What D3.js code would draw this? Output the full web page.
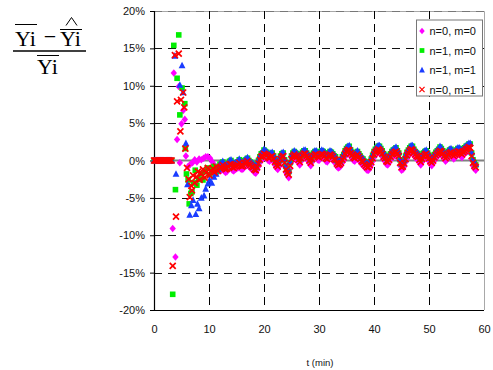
<!DOCTYPE html>
<html>
<head>
<meta charset="utf-8">
<script src="https://cdn.jsdelivr.net/npm/d3@7"></script>
<style>
  body { margin: 0; background: #fff; }
  svg { display: block; }
</style>
</head>
<body>
<svg id="chart" width="493" height="370"></svg>
<script>
// ---- data -------------------------------------------------------------
const xTicks = [0, 10, 20, 30, 40, 50, 60];
const yTicks = [-20, -15, -10, -5, 0, 5, 10, 15, 20];
const seriesNames = ["n=0, m=0", "n=1, m=0", "n=1, m=1", "n=0, m=1"];

// start-up period: all models give zero deviation
const zeroTimes = [0, 0.2, 0.4, 0.6, 0.8, 1.0, 1.2, 1.4, 1.6, 1.8, 2.0, 2.2, 2.4, 2.6, 2.8, 3.0, 3.2];

// transient period, [t (min), deviation %]
const earlyN0M0 = [[3.4,-9.1],[3.6,11.7],[3.9,-12.9],[4.2,2.8],[4.5,9.9],[4.7,-0.3],[5.0,4.9],[5.3,6.7],[5.6,5.5],[5.8,0.6],
  [6.2,-0.8],[6.6,-0.5],[7.0,-0.3],[7.4,0.1],[7.8,-0.2],[8.2,0.2],[8.6,0.1],[9.0,0.3],[9.4,0.5],[9.8,0.5],[10.2,0.3],[10.6,-0.2],[11.0,-0.6],[11.5,-1.0]];
const earlyN1M0 = [[3.4,-17.9],[3.6,15.4],[3.9,-3.9],[4.2,11.0],[4.5,16.8],[4.7,6.1],[5.1,9.7],[5.6,7.6],[5.7,1.6],[5.9,-1.8],
  [6.2,-2.6],[6.4,-5.8],[6.7,-4.4],[6.9,-4.2],[7.2,-3.0],[7.5,-1.3],[7.8,-3.3],[8.1,-2.5],[8.5,-1.8],[8.9,-2.6],[9.3,-1.5],[9.7,-1.0],[10.1,-1.9],[10.5,-1.2],[10.9,-0.8],[11.3,-1.5],[11.7,-1.1]];
const earlyN1M1 = [[3.8,14.0],[4.0,-1.8],[4.7,10.1],[5.1,12.7],[5.3,9.1],[5.8,2.3],[6.1,-3.2],[6.5,-7.3],[6.8,-6.0],[7.1,-5.3],
  [7.6,-7.2],[7.9,-5.8],[8.2,-6.4],[8.6,-5.0],[9.1,-4.7],[9.4,-3.8],[9.8,-3.1],[10.1,-2.6],[10.5,-3.0],[10.9,-2.2],[11.3,-1.8],[11.7,-1.2]];
const earlyN0M1 = [[3.4,-14.1],[3.8,14.1],[4.0,-7.5],[4.2,7.9],[4.5,14.3],[4.8,3.9],[4.9,8.1],[5.3,9.1],[5.5,7.1],[5.7,1.6],
  [6.0,-1.0],[6.3,-2.5],[6.5,-4.9],[6.8,-3.4],[6.9,-4.0],[7.1,-2.0],[7.4,-3.0],[7.7,-2.2],[8.0,-1.5],[8.3,-2.6],[8.6,-1.8],[8.9,-1.2],
  [9.2,-2.3],[9.5,-1.6],[9.8,-1.0],[10.1,-2.0],[10.4,-1.4],[10.7,-1.1],[11.0,-1.6],[11.3,-0.8],[11.6,-1.4]];

// steady operation, samples on the half minute ...
const lateTimes = [12,12.5,13,13.5,14,14.5,15,15.5,16,16.5,17,17.5,18,18.5,19,19.5,20,20.5,21,21.5,
  22,22.5,23,23.5,24,24.5,25,25.5,26,26.5,27,27.5,28,28.5,29,29.5,30,30.5,31,31.5,
  32,32.5,33,33.5,34,34.5,35,35.5,36,36.5,37,37.5,38,38.5,39,39.5,40,40.5,41,41.5,
  42,42.5,43,43.5,44,44.5,45,45.5,46,46.5,47,47.5,48,48.5,49,49.5,50,50.5,51,51.5,
  52,52.5,53,53.5,54,54.5,55,55.5,56,56.5,57,57.5,58,58.5];
const lateN0M0 = [-1.4,-1.0,-1.6,-1.2,-0.9,-1.4,-1.1,-0.7,-1.2,-0.8,
  -0.5,-1.0,-1.3,-1.7,-0.8,0.1,0.5,0.3,-0.1,0.2,
  -0.6,-1.2,-0.2,0.2,-1.6,-2.3,-0.2,0.4,0.1,-0.6,
  0.3,0.5,0.0,-0.7,0.2,0.4,0.0,0.5,0.2,-0.2,
  0.4,0.1,-0.3,-1.0,-0.7,0.0,0.8,1.0,0.3,-0.1,
  0.4,-0.2,-0.6,-1.1,-1.3,-0.6,0.4,0.9,1.0,0.5,
  -0.1,-0.6,0.1,0.5,0.8,0.2,-1.3,-0.8,0.3,0.9,
  1.0,0.4,0.1,-0.6,0.2,0.5,-0.1,-0.7,0.0,0.5,
  0.9,0.5,-0.1,0.4,0.7,0.2,0.6,0.8,0.4,0.9,
  1.2,1.3,-0.7,-1.3];
const lateN1M0 = [-0.5,-0.2,-0.7,-0.4,0.0,-0.5,-0.3,0.1,-0.4,0.0,
  0.3,-0.2,-0.5,-0.9,0.0,0.9,1.4,1.1,0.7,1.0,
  0.2,-0.4,0.6,1.0,-0.8,-1.5,0.6,1.2,0.9,0.2,
  1.1,1.3,0.8,0.1,1.0,1.2,0.8,1.3,1.0,0.6,
  1.2,0.9,0.5,-0.2,0.1,0.8,1.6,1.9,1.1,0.7,
  1.2,0.6,0.2,-0.3,-0.5,0.2,1.2,1.7,1.9,1.3,
  0.7,0.2,0.9,1.4,1.7,1.0,-0.5,0.0,1.1,1.7,
  1.9,1.2,0.9,0.2,1.0,1.3,0.7,0.1,0.8,1.3,
  1.8,1.3,0.7,1.2,1.5,1.0,1.4,1.6,1.2,1.7,
  2.0,2.2,0.1,-0.6];
const lateN1M1 = [-0.4,-0.1,-0.6,-0.3,0.1,-0.4,-0.2,0.2,-0.3,0.1,
  0.4,-0.1,-0.4,-0.8,0.1,1.0,1.5,1.2,0.8,1.1,
  0.3,-0.3,0.7,1.1,-0.7,-1.4,0.7,1.3,1.0,0.3,
  1.2,1.4,0.9,0.2,1.1,1.3,0.9,1.4,1.1,0.7,
  1.3,1.0,0.6,-0.1,0.2,0.9,1.7,2.0,1.2,0.8,
  1.3,0.7,0.3,-0.2,-0.4,0.3,1.3,1.8,2.0,1.4,
  0.8,0.3,1.0,1.5,1.8,1.1,-0.4,0.1,1.2,1.8,
  2.0,1.3,1.0,0.3,1.1,1.4,0.8,0.2,0.9,1.4,
  1.9,1.4,0.8,1.3,1.6,1.1,1.5,1.7,1.3,1.8,
  2.1,2.3,0.2,-0.5];
const lateN0M1 = [-1.0,-0.6,-1.2,-0.8,-0.5,-1.0,-0.7,-0.3,-0.8,-0.4,
  -0.1,-0.6,-0.9,-1.3,-0.4,0.5,0.9,0.7,0.3,0.6,
  -0.2,-0.8,0.2,0.6,-1.2,-1.9,0.2,0.8,0.5,-0.2,
  0.7,0.9,0.4,-0.3,0.6,0.8,0.4,0.9,0.6,0.2,
  0.8,0.5,0.1,-0.6,-0.3,0.4,1.2,1.4,0.7,0.3,
  0.8,0.2,-0.2,-0.7,-0.9,-0.2,0.8,1.3,1.4,0.9,
  0.3,-0.2,0.5,0.9,1.2,0.6,-0.9,-0.4,0.7,1.3,
  1.4,0.8,0.5,-0.2,0.6,0.9,0.3,-0.3,0.4,0.9,
  1.3,0.9,0.3,0.8,1.1,0.6,1.0,1.2,0.8,1.3,
  1.6,1.7,-0.3,-0.9];

// ... and the quarter-minute samples in between
const midTimes = [12.25,12.75,13.25,13.75,14.25,14.75,15.25,15.75,16.25,16.75,
  17.25,17.75,18.25,18.75,19.25,19.75,20.25,20.75,21.25,21.75,
  22.25,22.75,23.25,23.75,24.25,24.75,25.25,25.75,26.25,26.75,
  27.25,27.75,28.25,28.75,29.25,29.75,30.25,30.75,31.25,31.75,
  32.25,32.75,33.25,33.75,34.25,34.75,35.25,35.75,36.25,36.75,
  37.25,37.75,38.25,38.75,39.25,39.75,40.25,40.75,41.25,41.75,
  42.25,42.75,43.25,43.75,44.25,44.75,45.25,45.75,46.25,46.75,
  47.25,47.75,48.25,48.75,49.25,49.75,50.25,50.75,51.25,51.75,
  52.25,52.75,53.25,53.75,54.25,54.75,55.25,55.75,56.25,56.75,
  57.25,57.75,58.25];
const midN0M0 = [-1.3,-1.4,-1.5,-0.9,-1.3,-1.2,-1.0,-1.1,-1.1,-0.7,
  -0.8,-1.2,-1.6,-1.3,-0.3,0.2,0.4,0.0,0.1,-0.2,
  -1.0,-0.8,0.1,-0.7,-2.0,-1.1,0.2,0.2,-0.3,-0.1,
  0.5,0.2,-0.4,-0.2,0.4,0.1,0.3,0.4,-0.1,0.2,
  0.3,-0.2,-0.8,-0.9,-0.3,0.5,1.0,0.6,0.0,0.2,
  0.1,-0.5,-0.9,-1.3,-1.0,-0.1,0.7,1.1,0.8,0.1,
  -0.5,-0.3,0.4,0.7,0.5,-0.7,-1.2,-0.2,0.6,1.1,
  0.7,0.2,-0.3,-0.2,0.4,0.2,-0.5,-0.4,0.3,0.7,
  0.8,0.2,0.1,0.6,0.4,0.4,0.8,0.6,0.7,1.1,
  1.4,0.2,-1.1];
const midN1M0 = [-0.5,-0.6,-0.7,-0.1,-0.5,-0.4,-0.2,-0.3,-0.3,0.1,
  0.0,-0.4,-0.8,-0.5,0.5,1.0,1.2,0.8,0.9,0.6,
  -0.2,0.0,0.9,0.1,-1.2,-0.3,1.0,1.0,0.5,0.7,
  1.3,1.0,0.4,0.6,1.2,0.9,1.1,1.2,0.7,1.0,
  1.1,0.6,0.0,-0.1,0.5,1.3,1.8,1.4,0.8,1.0,
  0.9,0.3,-0.1,-0.5,-0.2,0.7,1.5,1.9,1.6,0.9,
  0.3,0.5,1.2,1.5,1.3,0.1,-0.4,0.6,1.4,1.9,
  1.5,1.0,0.5,0.6,1.2,1.0,0.3,0.4,1.1,1.5,
  1.6,1.0,0.9,1.4,1.2,1.2,1.6,1.4,1.5,1.9,
  2.2,1.0,-0.3];
const midN1M1 = [-0.4,-0.5,-0.6,0.0,-0.4,-0.3,-0.1,-0.2,-0.2,0.2,
  0.1,-0.3,-0.7,-0.4,0.6,1.1,1.3,0.9,1.0,0.7,
  -0.1,0.1,1.0,0.2,-1.1,-0.2,1.1,1.1,0.6,0.8,
  1.4,1.1,0.5,0.7,1.3,1.0,1.2,1.3,0.8,1.1,
  1.2,0.7,0.1,0.0,0.6,1.4,1.9,1.5,0.9,1.1,
  1.0,0.4,0.0,-0.4,-0.1,0.8,1.6,2.0,1.7,1.0,
  0.4,0.6,1.3,1.6,1.4,0.2,-0.3,0.7,1.5,2.0,
  1.6,1.1,0.6,0.7,1.3,1.1,0.4,0.5,1.2,1.6,
  1.7,1.1,1.0,1.5,1.3,1.3,1.7,1.5,1.6,2.0,
  2.3,1.1,-0.2];
const midN0M1 = [-0.9,-1.0,-1.1,-0.5,-0.9,-0.8,-0.6,-0.7,-0.7,-0.3,
  -0.4,-0.8,-1.2,-0.9,0.1,0.6,0.8,0.4,0.5,0.2,
  -0.6,-0.4,0.5,-0.3,-1.6,-0.7,0.6,0.6,0.1,0.3,
  0.9,0.6,0.0,0.2,0.8,0.5,0.7,0.8,0.3,0.6,
  0.7,0.2,-0.4,-0.5,0.1,0.9,1.4,1.0,0.4,0.6,
  0.5,-0.1,-0.5,-0.9,-0.6,0.3,1.1,1.5,1.2,0.5,
  -0.1,0.1,0.8,1.1,0.9,-0.3,-0.8,0.2,1.0,1.5,
  1.1,0.6,0.1,0.2,0.8,0.6,-0.1,0.0,0.7,1.1,
  1.2,0.6,0.5,1.0,0.8,0.8,1.2,1.0,1.1,1.5,
  1.8,0.6,-0.7];

// ---- build series ------------------------------------------------------
function buildSeries(early, late, mid) {
  const pts = zeroTimes.map(t => ({t, v: 0}));
  early.forEach(([t, v]) => pts.push({t, v}));
  lateTimes.forEach((t, i) => pts.push({t, v: late[i]}));
  midTimes.forEach((t, i) => pts.push({t, v: mid[i]}));
  return pts.filter(p => Number.isFinite(p.v)).sort((a, b) => a.t - b.t);
}

const markerPaths = {
  diamond: "M0,-3.8L3.2,0L0,3.8L-3.2,0Z",
  square: "M-2.8,-2.8H2.8V2.8H-2.8Z",
  triangle: "M0,-3.8L3.4,2.8H-3.4Z",
  cross: "M-3,-3L3,3M3,-3L-3,3"
};

const series = [
  { name: seriesNames[0], color: "#ff00ff", shape: "diamond",  data: buildSeries(earlyN0M0, lateN0M0, midN0M0) },
  { name: seriesNames[1], color: "#00ee00", shape: "square",   data: buildSeries(earlyN1M0, lateN1M0, midN1M0) },
  { name: seriesNames[2], color: "#1a3cff", shape: "triangle", data: buildSeries(earlyN1M1, lateN1M1, midN1M1) },
  { name: seriesNames[3], color: "#ff0000", shape: "cross",    data: buildSeries(earlyN0M1, lateN0M1, midN0M1) }
];

// ---- layout ------------------------------------------------------------
const svg = d3.select("#chart");
const plotL = 154, plotR = 484, plotT = 11, plotB = 310;
const x = d3.scaleLinear().domain([0, 60]).range([plotL, plotR]);
const y = d3.scaleLinear().domain([-20, 20]).range([plotB, plotT]);
const sans = "'Liberation Sans', Arial, sans-serif";

// frame (top and right)
svg.append("path")
  .attr("d", `M${plotL},${plotT + 0.5}H${plotR + 0.5}V${plotB}`)
  .attr("fill", "none").attr("stroke", "#a8a8a8").attr("stroke-width", 1);

// dashed grid
const grid = svg.append("g");
grid.selectAll("line.v").data(xTicks.filter(d => d > 0 && d < 60)).join("line")
  .attr("x1", d => Math.round(x(d)) + 0.5).attr("x2", d => Math.round(x(d)) + 0.5)
  .attr("y1", plotT).attr("y2", plotB)
  .attr("stroke", "#000").attr("stroke-dasharray", "8,5");
grid.selectAll("line.h").data(yTicks.filter(d => d !== 0 && d > -20)).join("line")
  .attr("x1", plotL).attr("x2", plotR)
  .attr("y1", d => Math.round(y(d)) + 0.5).attr("y2", d => Math.round(y(d)) + 0.5)
  .attr("stroke", d => d === 20 ? "#777" : "#111").attr("stroke-dasharray", "8,6");

// zero reference line
svg.append("line")
  .attr("x1", plotL).attr("x2", plotR)
  .attr("y1", y(0)).attr("y2", y(0))
  .attr("stroke", "#808080").attr("stroke-width", 2);

// axes
const yAxis = svg.append("g").attr("transform", `translate(${plotL},0)`)
  .call(d3.axisLeft(y).tickValues(yTicks).tickSize(4).tickPadding(5).tickFormat(d => d + "%"));
const xAxis = svg.append("g").attr("transform", `translate(0,${plotB})`)
  .call(d3.axisBottom(x).tickValues(xTicks).tickSize(0).tickPadding(15));
[yAxis, xAxis].forEach(g => {
  g.select(".domain").attr("stroke", "#000").attr("stroke-width", 1.2);
  g.selectAll(".tick line").attr("stroke", "#000");
  g.selectAll("text").attr("font-family", sans).attr("font-size", 11).attr("fill", "#111");
});
yAxis.select(".domain").attr("d", `M0.5,${plotT}V${plotB}`);
xAxis.select(".domain").attr("d", `M${plotL},0.5H${plotR}`);

// axis title
svg.append("text").attr("x", 320).attr("y", 366).attr("text-anchor", "middle")
  .attr("font-family", sans).attr("font-size", 9.5).attr("fill", "#111").text("t (min)");

// data points
const clipId = "plotClip";
svg.append("clipPath").attr("id", clipId).append("rect")
  .attr("x", plotL - 4).attr("y", plotT - 4).attr("width", plotR - plotL + 8).attr("height", plotB - plotT + 8);
const pts = svg.append("g").attr("clip-path", `url(#${clipId})`);
series.forEach(s => {
  const g = pts.append("g");
  g.selectAll("path").data(s.data).join("path")
    .attr("transform", d => `translate(${x(d.t)},${y(d.v)})`)
    .attr("d", markerPaths[s.shape])
    .attr("fill", s.shape === "cross" ? "none" : s.color)
    .attr("stroke", s.shape === "cross" ? s.color : "none")
    .attr("stroke-width", 1.7);
});

// legend
const lg = svg.append("g").attr("transform", "translate(416,19.5)");
lg.append("rect").attr("x", 0.5).attr("y", 0.5).attr("width", 66).attr("height", 76)
  .attr("fill", "#fff").attr("stroke", "#777");
series.forEach((s, i) => {
  const cy = 11.5 + i * 19.5;
  lg.append("path").attr("transform", `translate(6,${cy}) scale(0.85)`)
    .attr("d", markerPaths[s.shape])
    .attr("fill", s.shape === "cross" ? "none" : s.color)
    .attr("stroke", s.shape === "cross" ? s.color : "none")
    .attr("stroke-width", 1.4);
  lg.append("text").attr("x", 13.5).attr("y", cy + 4)
    .attr("font-family", sans).attr("font-size", 11).attr("fill", "#111").text(s.name);
});

// relative-deviation formula as the y-axis title
const serif = "'Liberation Serif', 'Times New Roman', serif";
const f = svg.append("g").attr("font-family", serif).attr("font-size", 22).attr("fill", "#000");
f.append("text").attr("x", 15).attr("y", 46).text("Yi");
f.append("text").attr("x", 50).attr("y", 44).attr("text-anchor", "middle").text("\u2212");
f.append("text").attr("x", 60).attr("y", 46).text("Yi");
f.append("text").attr("x", 37).attr("y", 74).text("Yi");
// hat over the estimated value
f.append("path").attr("d", "M66,25.5L71.5,17.5L77,25.5")
  .attr("fill", "none").attr("stroke", "#000").attr("stroke-width", 1);
const bars = [
  [15, 37, 24.5],   // bar over the first Yi
  [60, 82, 29.5],   // bar over the second Yi
  [37, 59, 55.5],   // bar over the denominator Yi
];
bars.forEach(([x1, x2, yy]) => f.append("line").attr("x1", x1).attr("x2", x2).attr("y1", yy).attr("y2", yy)
  .attr("stroke", "#000").attr("stroke-width", 1));
f.append("line").attr("x1", 13).attr("x2", 86).attr("y1", 51).attr("y2", 51)
  .attr("stroke", "#000").attr("stroke-width", 1.3);
</script>
</body>
</html>
